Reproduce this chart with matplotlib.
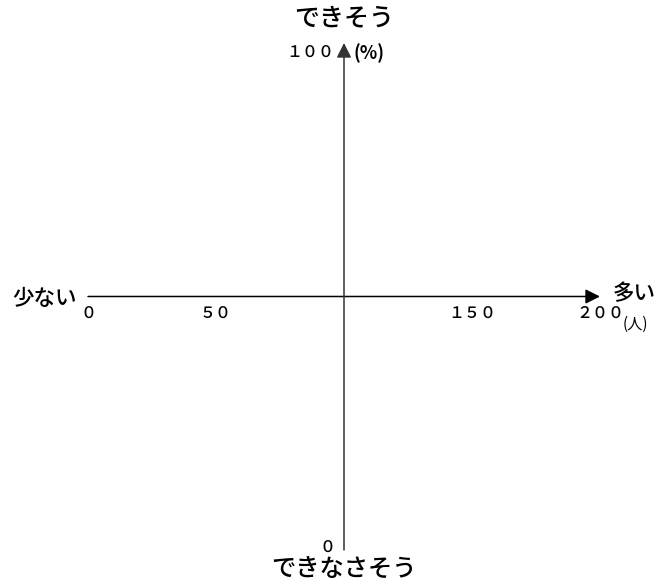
import matplotlib
matplotlib.use("Agg")
import matplotlib.pyplot as plt

plt.rcParams['font.family'] = ['Noto Sans CJK JP', 'DejaVu Sans']

# axis ranges and labels
x_min, x_max = 0, 200          # people
y_min, y_max = 0, 100          # percent
x_tick_values = [0, 50, 150, 200]
y_tick_values = [0, 100]
top_label = "できそう"
bottom_label = "できなさそう"
left_label = "少ない"
right_label = "多い"
x_unit = "(人)"
y_unit = "(%)"


def fullwidth(n):
    return "".join(chr(ord(c) + 0xFEE0) for c in str(n))


fig = plt.figure(figsize=(6.56, 5.85), dpi=100)
W, H = 656, 585
ax = fig.add_axes([88 / W, 1 - 550 / H, (600 - 88) / W, (550 - 43) / H])
ax.set_xlim(x_min, x_max)
ax.set_ylim(y_min, y_max)
ax.axis("off")

xc = (x_min + x_max) / 2
yc = (y_min + y_max) / 2

arrow = dict(arrowstyle="-|>", color="black", lw=1.1, mutation_scale=22,
             shrinkA=0, shrinkB=0)
ax.annotate("", xy=(x_max, yc), xytext=(x_min, yc), arrowprops=arrow)
ax.annotate("", xy=(xc, y_max), xytext=(xc, y_min),
            arrowprops=dict(arrow, color="#333333"))

jp = dict(fontweight="medium")
num = dict(fontsize=11.5, fontweight="medium")

# x tick labels
for v in x_tick_values:
    ax.annotate(fullwidth(v), xy=(v, yc), xytext=(0, -6), textcoords="offset points",
                ha="center", va="top", **num)

# y tick labels
ax.annotate(fullwidth(y_tick_values[1]), xy=(xc, y_max), xytext=(-7, -7),
            textcoords="offset points", ha="right", va="center", **num)
ax.annotate(fullwidth(y_tick_values[0]), xy=(xc, y_min), xytext=(-12, 2),
            textcoords="offset points", ha="center", va="center", **num)
ax.annotate(y_unit, xy=(xc, y_max), xytext=(7, -7), textcoords="offset points",
            ha="left", va="center", fontsize=13, fontweight="bold")

# end labels
ax.annotate(top_label, xy=(xc, y_max), xytext=(0, 18), textcoords="offset points",
            ha="center", va="center", fontsize=18, **jp)
ax.annotate(bottom_label, xy=(xc, y_min), xytext=(0, -14), textcoords="offset points",
            ha="center", va="center", fontsize=17.5, **jp)
ax.annotate(left_label, xy=(x_min, yc), xytext=(-8, -2), textcoords="offset points",
            ha="right", va="center", fontsize=15.5, **jp)
ax.annotate(right_label, xy=(x_max, yc), xytext=(9, 2), textcoords="offset points",
            ha="left", va="center", fontsize=15.5, **jp)
ax.annotate(x_unit, xy=(x_max, yc), xytext=(16, -20), textcoords="offset points",
            ha="left", va="center", fontsize=11)

fig.savefig("out.png", dpi=100)
